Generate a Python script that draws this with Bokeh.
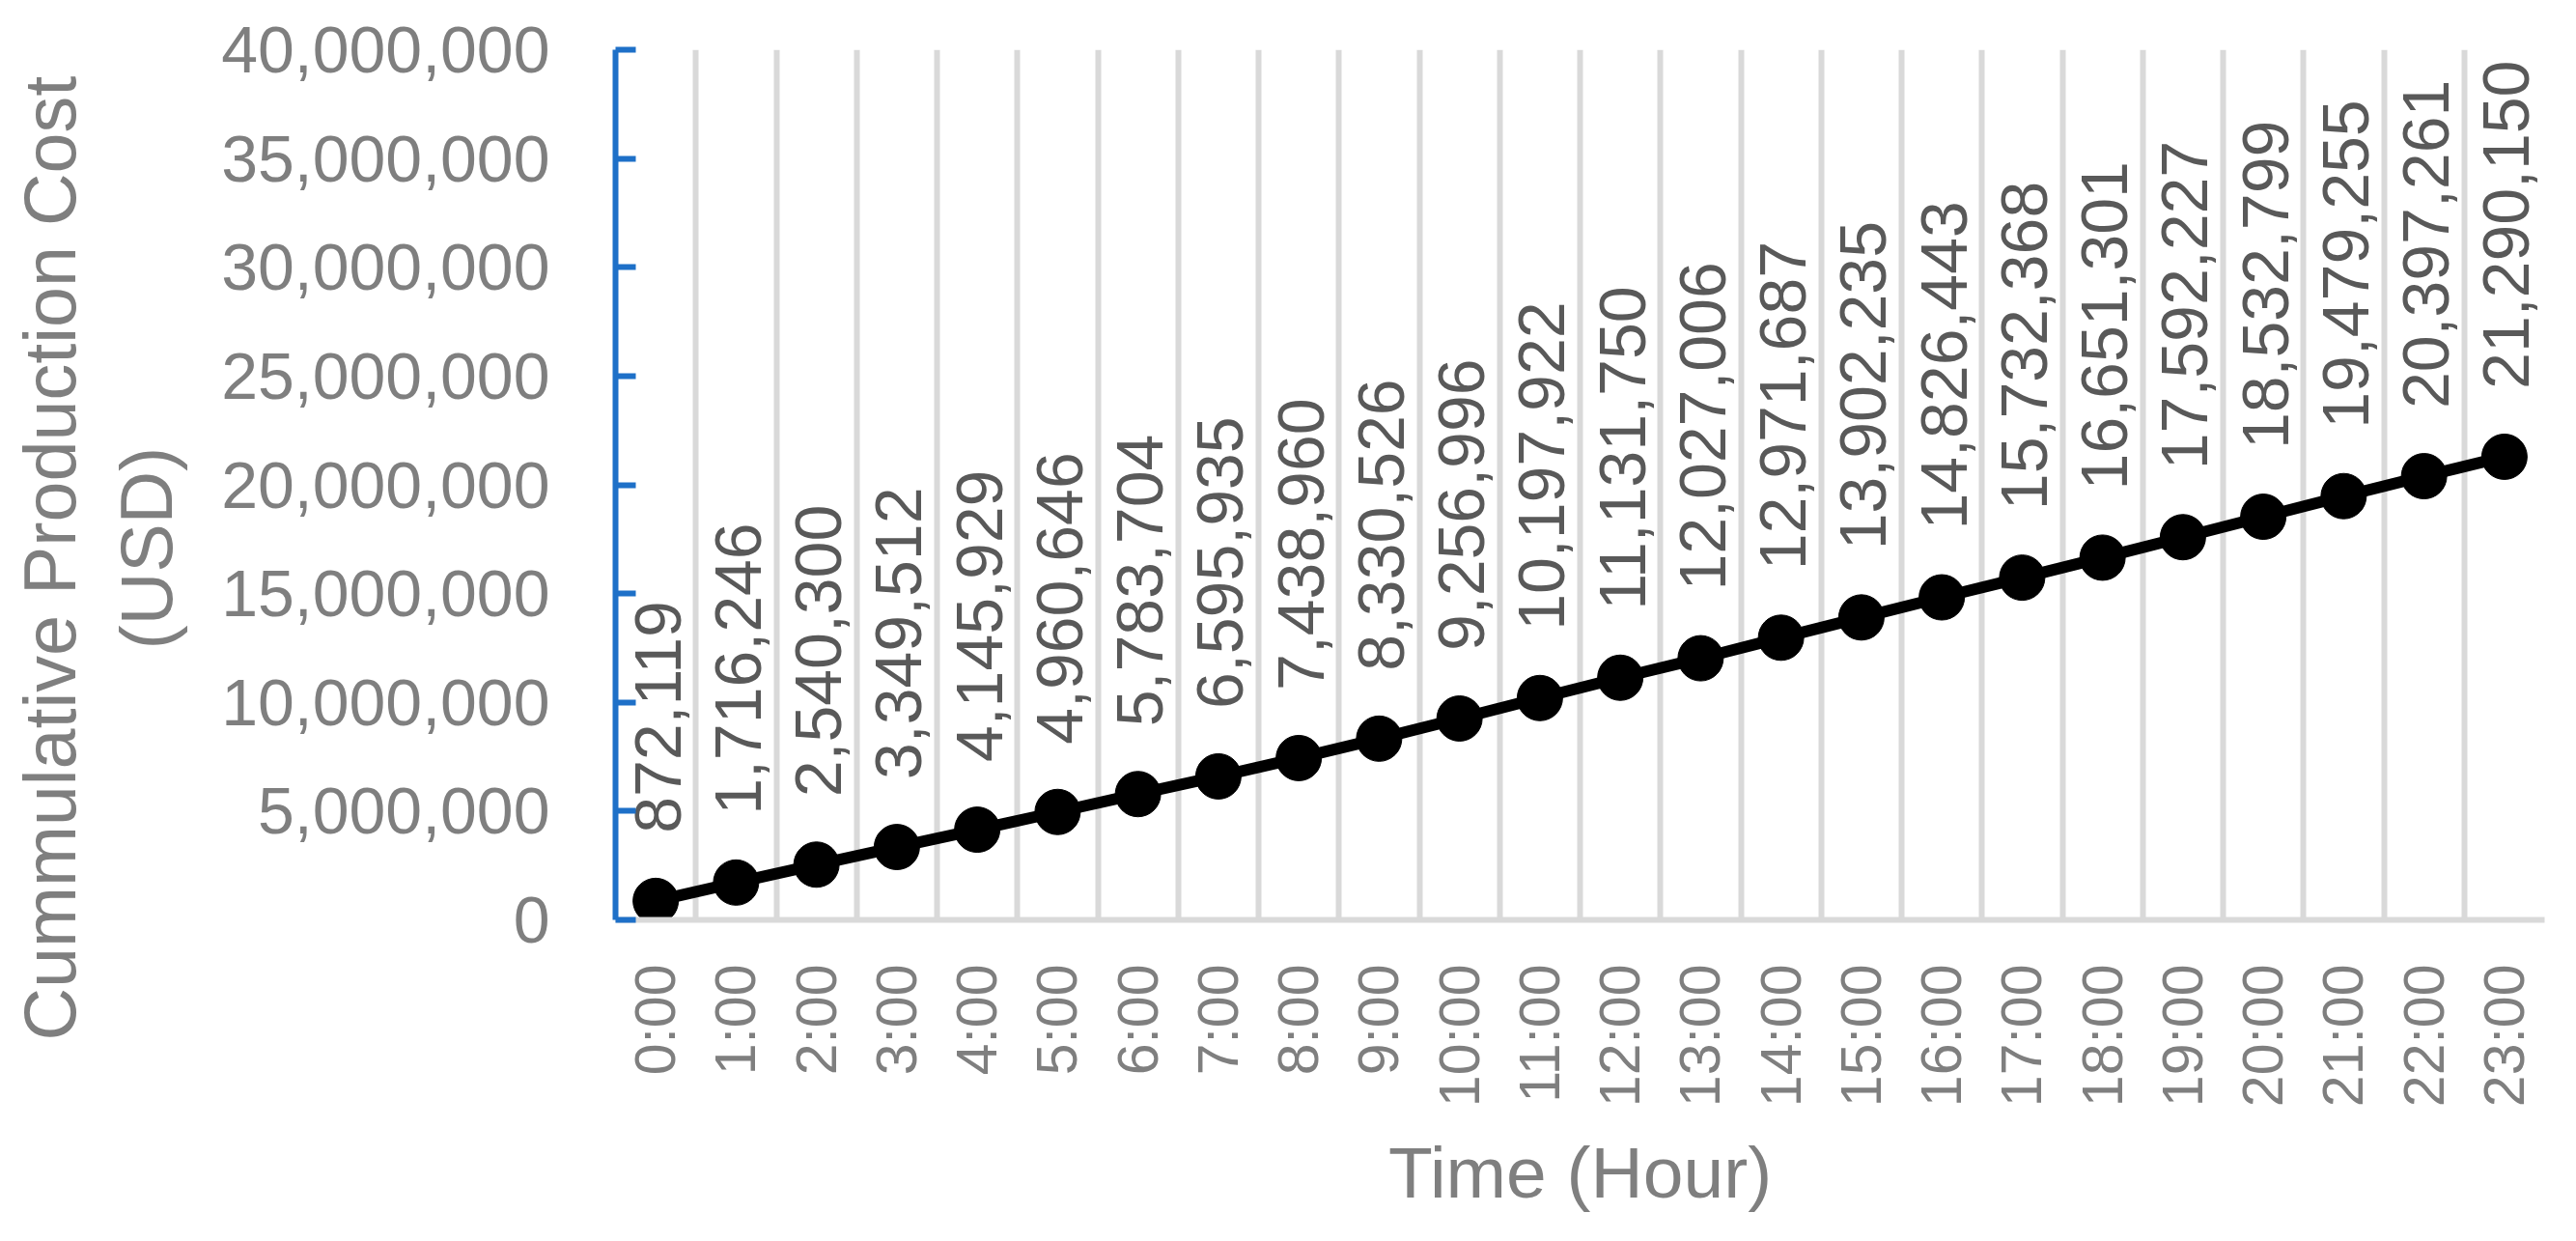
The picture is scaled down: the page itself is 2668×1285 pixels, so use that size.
from math import pi
from bokeh.plotting import figure
from bokeh.layouts import row
from bokeh.models import ColumnDataSource, FixedTicker, NumeralTickFormatter, Range1d, Title
from bokeh.core.properties import value
from bokeh.embed import file_html
from bokeh.resources import INLINE

hours = ["0:00", "1:00", "2:00", "3:00", "4:00", "5:00", "6:00", "7:00",
         "8:00", "9:00", "10:00", "11:00", "12:00", "13:00", "14:00", "15:00",
         "16:00", "17:00", "18:00", "19:00", "20:00", "21:00", "22:00", "23:00"]
cost = [872119, 1716246, 2540300, 3349512, 4145929, 4960646, 5783704, 6595935,
        7438960, 8330526, 9256996, 10197922, 11131750, 12027006, 12971687, 13902235,
        14826443, 15732368, 16651301, 17592227, 18532799, 19479255, 20397261, 21290150]
y_ticks = [0, 5000000, 10000000, 15000000, 20000000, 25000000, 30000000, 35000000, 40000000]
x_title = "Time (Hour)"
y_title_lines = ["Cummulative Production Cost", "(USD)"]

FONT = "Liberation Sans"
GRAY = "#7f7f7f"
BLUE = "#1E70C8"
TOTAL_W = 2652
TOTAL_H = 1269
TITLE_W = 210

# ---- left strip: the two-line y-axis title as side-panel titles ----
t = figure(width=TITLE_W, height=TOTAL_H, output_backend="svg", toolbar_location=None,
           x_axis_type=None, y_axis_type=None,
           min_border_left=206, min_border_right=0, min_border_top=0, min_border_bottom=0)
t.outline_line_color = None
t.grid.grid_line_color = None
t.background_fill_color = "white"
t.border_fill_color = "white"
title_usd = Title(text=y_title_lines[1], align="left", vertical_align="bottom",
                  offset=280, standoff=26, text_font=FONT, text_font_size="75.5px",
                  text_font_style="normal", text_color=GRAY)
title_main = Title(text=y_title_lines[0], align="left", vertical_align="bottom",
                   offset=-125, standoff=2, text_font=FONT, text_font_size="75.5px",
                   text_font_style="normal", text_color=GRAY)
t.add_layout(title_usd, "left")
t.add_layout(title_main, "left")

# ---- main chart ----
xs = list(range(len(hours)))
src = ColumnDataSource(dict(x=xs, y=cost, label=[f"{v:,}" for v in cost]))

p = figure(width=TOTAL_W - TITLE_W, height=TOTAL_H, output_backend="svg", toolbar_location=None,
           x_range=Range1d(-0.5, len(hours) - 0.5), y_range=Range1d(y_ticks[0], y_ticks[-1]),
           min_border_left=637 - TITLE_W, min_border_right=TOTAL_W - 2635,
           min_border_top=51, min_border_bottom=TOTAL_H - 952)
p.outline_line_color = None
p.background_fill_color = "white"
p.border_fill_color = "white"

p.xgrid.ticker = FixedTicker(ticks=[i - 0.5 for i in range(len(hours) + 1)])
p.xgrid.grid_line_color = "#d9d9d9"
p.xgrid.grid_line_width = 6
p.ygrid.grid_line_color = None

xa = p.xaxis[0]
xa.ticker = FixedTicker(ticks=xs)
xa.major_label_overrides = {i: h for i, h in enumerate(hours)}
xa.major_label_orientation = pi / 2
xa.axis_line_color = "#d9d9d9"
xa.axis_line_width = 6
xa.major_tick_line_color = None
xa.minor_tick_line_color = None
xa.major_label_standoff = 40
xa.major_label_text_font = FONT
xa.major_label_text_font_size = "59px"
xa.major_label_text_color = GRAY
xa.axis_label = x_title
xa.axis_label_text_font = FONT
xa.axis_label_text_font_size = "75px"
xa.axis_label_text_font_style = "normal"
xa.axis_label_text_color = GRAY
xa.axis_label_standoff = 23

ya = p.yaxis[0]
ya.ticker = FixedTicker(ticks=y_ticks)
ya.formatter = NumeralTickFormatter(format="0,0")
ya.axis_line_color = BLUE
ya.axis_line_width = 6
ya.major_tick_line_color = BLUE
ya.major_tick_line_width = 6
ya.major_tick_in = 21
ya.major_tick_out = 0
ya.minor_tick_line_color = None
ya.major_label_standoff = 68
ya.major_label_text_font = FONT
ya.major_label_text_font_size = "68px"
ya.major_label_text_color = GRAY

p.line("x", "y", source=src, line_color="black", line_width=12)
p.scatter("x", "y", source=src, size=47, fill_color="black", line_color="black")
p.text("x", "y", text="label", source=src, angle=pi / 2, text_align="left",
       text_baseline="middle", y_offset=-70, x_offset=2,
       text_font=value(FONT), text_font_size="68px", text_color="#595959")

layout = row(t, p, spacing=0)

with open("out.html", "w") as f:
    f.write(file_html(layout, INLINE))
